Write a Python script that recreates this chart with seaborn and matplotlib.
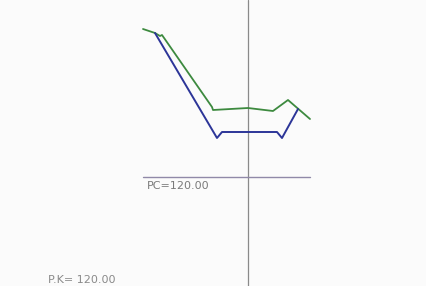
import matplotlib
matplotlib.use("Agg")
from matplotlib import pyplot as plt
import pandas as pd
import seaborn as sns

# values (x: offset from the vertical marker, y: level)
green_x = [-105, -93, -88, -86, -36, -35, 0, 25, 40, 62]
green_y = [268, 264, 261, 262, 190, 187, 189, 186, 197, 178]
blue_x = [-93, -31, -26, 29, 34, 50]
blue_y = [264, 159, 165, 165, 159, 188]
pc_level = 120.0
pc_span = [-105, 62]
pk_label = "P.K= 120.00"
pc_label = "PC=120.00"

if __name__ == "__main__":
    sns.set_style("white")
    fig = plt.figure(figsize=(4.26, 2.86), dpi=100)
    fig.patch.set_facecolor("#fbfbfb")
    ax = fig.add_axes([0, 0, 1, 1])
    ax.set_facecolor("#fbfbfb")

    green = pd.DataFrame({"x": green_x, "y": green_y})
    blue = pd.DataFrame({"x": blue_x, "y": blue_y})

    ax.axvline(0, color="#8a8a8a", lw=0.9)
    ax.plot(pc_span, [pc_level, pc_level], color="#9089a8", lw=1.0)

    sns.lineplot(data=green, x="x", y="y", sort=False, color="#3d8a3f", lw=1.3, ax=ax)
    sns.lineplot(data=blue, x="x", y="y", sort=False, color="#2c3598", lw=1.4, ax=ax)

    ax.text(-101, 116, pc_label, color="#7a7a7a", fontsize=8, va="top", ha="left")
    ax.text(-200, 22, pk_label, color="#8a8a8a", fontsize=8, va="top", ha="left")

    ax.set_xlim(-248, 178)
    ax.set_ylim(11, 297)
    ax.axis("off")

    plt.savefig("out.png", dpi=100, facecolor=fig.get_facecolor())
